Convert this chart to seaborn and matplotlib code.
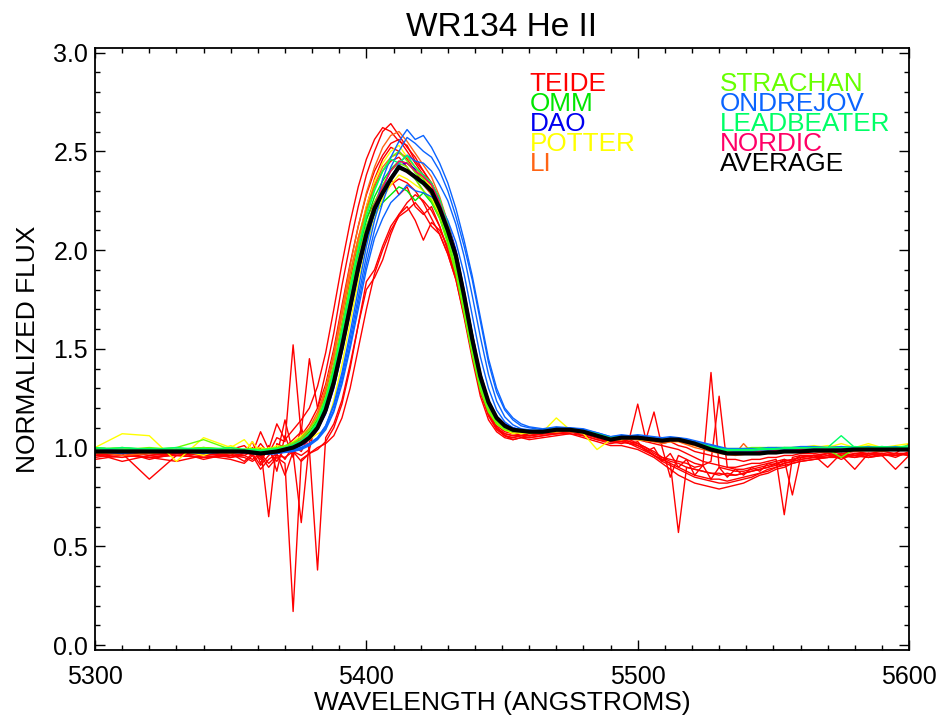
import numpy as np
import pandas as pd
import matplotlib
matplotlib.use("Agg")
import matplotlib.pyplot as plt
import seaborn as sns
from matplotlib.ticker import MultipleLocator, FormatStrFormatter

# ---------------- data ----------------
wavelength = [5300, 5310, 5320, 5330, 5340, 5350,
              5355, 5358, 5361, 5364, 5367, 5370, 5373, 5376, 5379, 5382, 5385, 5388,
              5391, 5394, 5397, 5400, 5403, 5406, 5409, 5412, 5415, 5418, 5421, 5424,
              5427, 5430, 5433, 5436, 5439, 5442, 5445, 5448, 5451, 5454, 5457, 5460,
              5465, 5470, 5475, 5480, 5485, 5490,
              5494, 5497, 5500, 5503, 5506, 5509, 5512, 5515, 5518, 5521, 5524, 5527,
              5530, 5533, 5536, 5539, 5542, 5545, 5548, 5551, 5554, 5557, 5560,
              5565, 5570, 5575, 5580, 5585, 5590, 5595, 5600]
SEG = [6, 36, 6, 23, 8]

teide_1 = [[0.97, 0.96, 0.95, 0.97, 0.96, 0.97],
           [0.98, 0.96, 1.02, 0.97, 1.05, 1.03, 1.52, 1.06, 1.12, 1.20, 1.38, 1.58, 1.82, 2.03, 2.22, 2.38, 2.50, 2.60,
            2.64, 2.58, 2.52, 2.47, 2.40, 2.33, 2.22, 2.08, 1.92, 1.72, 1.50, 1.31, 1.19, 1.12, 1.09, 1.07, 1.08, 1.06],
           [1.07, 1.08, 1.09, 1.07, 1.05, 1.03],
           [1.04, 1.03, 1.02, 1.00, 0.97, 0.95, 0.93, 0.92, 0.90, 0.89, 0.88, 0.87, 0.86, 0.87, 0.86, 0.87, 0.88, 0.89,
            0.90, 0.92, 0.93, 0.94, 0.95],
           [0.96, 0.95, 0.97, 0.96, 0.97, 0.96, 0.97, 0.97]]
teide_2 = [[0.96, 0.95, 0.97, 0.96, 0.95, 0.96],
           [0.95, 0.93, 0.96, 0.90, 0.95, 0.92, 0.17, 0.94, 0.97, 0.99, 1.03, 1.10, 1.22, 1.40, 1.62, 1.84, 1.90, 2.02,
            2.12, 2.18, 2.22, 2.15, 2.05, 2.14, 2.10, 2.02, 1.90, 1.72, 1.50, 1.30, 1.18, 1.10, 1.06, 1.05, 1.06, 1.05],
           [1.06, 1.07, 1.08, 1.06, 1.04, 1.03],
           [1.02, 1.03, 1.01, 0.99, 0.96, 0.93, 0.91, 0.89, 0.87, 0.85, 0.84, 0.83, 0.82, 0.82, 0.83, 0.84, 0.85, 0.87,
            0.88, 0.90, 0.91, 0.92, 0.93],
           [0.94, 0.95, 0.96, 0.95, 0.96, 0.97, 0.96, 0.97]]
teide_3 = [[0.97, 0.98, 0.96, 0.97, 0.97, 0.96],
           [0.97, 1.00, 0.95, 0.98, 0.93, 1.00, 0.97, 1.03, 1.07, 1.14, 1.28, 1.46, 1.67, 1.88, 2.06, 2.20, 2.32, 2.40,
            2.45, 2.47, 2.42, 2.36, 2.30, 2.25, 2.17, 2.05, 1.90, 1.70, 1.48, 1.30, 1.17, 1.11, 1.08, 1.07, 1.07, 1.07],
           [1.08, 1.08, 1.09, 1.08, 1.05, 1.04],
           [1.03, 1.04, 1.02, 1.00, 0.98, 0.95, 0.94, 0.93, 0.92, 0.90, 0.91, 1.38, 0.90, 0.89, 0.88, 0.88, 0.89, 0.90,
            0.91, 0.92, 0.93, 0.94, 0.95],
           [0.96, 0.97, 0.96, 0.97, 0.97, 0.96, 0.97, 0.96]]
teide_4 = [[0.95, 0.97, 0.84, 0.96, 0.95, 0.96],
           [0.96, 0.94, 0.97, 0.92, 0.96, 0.95, 0.98, 0.96, 0.99, 0.38, 1.05, 1.12, 1.24, 1.42, 1.62, 1.80, 1.86, 1.95,
            2.08, 2.18, 2.24, 2.28, 2.25, 2.20, 2.12, 2.00, 1.86, 1.68, 1.47, 1.28, 1.16, 1.09, 1.06, 1.05, 1.06, 1.06],
           [1.07, 1.08, 1.08, 1.07, 1.05, 1.03],
           [1.03, 1.02, 1.01, 0.99, 0.96, 0.94, 0.92, 0.57, 0.90, 0.89, 0.88, 0.87, 0.87, 0.86, 0.86, 0.87, 0.88, 0.89,
            0.90, 0.91, 0.92, 0.93, 0.94],
           [0.95, 0.96, 0.96, 0.95, 0.97, 0.96, 0.97, 0.97]]
teide_5 = [[0.98, 0.97, 0.98, 0.96, 0.98, 0.97],
           [0.99, 0.97, 1.00, 0.65, 1.02, 1.00, 1.04, 1.08, 1.45, 1.20, 1.32, 1.50, 1.72, 1.93, 2.12, 2.28, 2.40, 2.48,
            2.54, 2.56, 2.50, 2.44, 2.38, 2.34, 2.26, 2.13, 1.96, 1.76, 1.54, 1.34, 1.21, 1.13, 1.10, 1.08, 1.08, 1.07],
           [1.08, 1.09, 1.09, 1.08, 1.06, 1.04],
           [1.05, 1.04, 1.04, 1.03, 1.02, 1.01, 1.00, 0.99, 0.97, 0.95, 0.93, 0.92, 0.91, 0.90, 0.90, 0.91, 0.92, 0.92,
            0.93, 0.94, 0.66, 0.95, 0.96],
           [0.96, 0.90, 0.97, 0.96, 0.97, 0.97, 0.96, 0.97]]
teide_6 = [[0.96, 0.97, 0.95, 0.96, 0.97, 0.95],
           [0.96, 0.98, 0.94, 0.99, 0.96, 1.14, 0.97, 0.62, 1.03, 1.09, 1.20, 1.36, 1.56, 1.77, 1.97, 2.12, 2.22, 2.28,
            2.33, 2.36, 2.34, 2.30, 2.24, 2.16, 2.08, 1.98, 1.85, 1.67, 1.47, 1.29, 1.17, 1.10, 1.07, 1.06, 1.06, 1.06],
           [1.07, 1.07, 1.08, 1.07, 1.05, 1.04],
           [1.04, 1.05, 1.22, 1.04, 1.18, 1.00, 0.85, 0.96, 0.94, 0.92, 0.91, 0.93, 1.26, 0.90, 0.89, 0.89, 0.90, 0.91,
            0.92, 0.93, 0.94, 0.76, 0.95],
           [0.96, 0.97, 0.96, 0.89, 0.97, 0.96, 0.97, 0.96]]
teide_7 = [[0.97, 0.93, 0.96, 0.98, 0.94, 0.97],
           [0.93, 0.97, 0.91, 0.96, 0.99, 0.94, 1.01, 0.98, 1.06, 1.10, 1.22, 1.40, 1.62, 1.84, 2.02, 2.16, 2.24, 2.32,
            2.36, 2.28, 2.32, 2.22, 2.18, 2.22, 2.12, 2.00, 1.87, 1.69, 1.48, 1.29, 1.17, 1.10, 1.06, 1.04, 1.05, 1.05],
           [1.06, 1.07, 1.07, 1.06, 1.04, 1.02],
           [1.03, 1.02, 1.00, 0.98, 0.96, 0.94, 0.92, 0.90, 0.88, 0.86, 0.85, 0.84, 0.84, 0.83, 0.84, 0.85, 0.86, 0.87,
            0.89, 0.90, 0.92, 0.93, 0.94],
           [0.95, 0.95, 0.96, 0.96, 0.95, 0.96, 0.89, 0.96]]
teide_8 = [[0.96, 0.98, 0.94, 0.97, 0.99, 0.95],
           [0.97, 1.03, 0.92, 1.01, 0.88, 1.06, 0.95, 1.10, 0.99, 1.16, 1.24, 1.42, 1.62, 1.84, 2.05, 2.22, 2.36, 2.46,
            2.52, 2.50, 2.46, 2.40, 2.33, 2.28, 2.18, 2.05, 1.89, 1.69, 1.48, 1.29, 1.17, 1.10, 1.07, 1.06, 1.07, 1.06],
           [1.07, 1.08, 1.08, 1.07, 1.05, 1.03],
           [1.04, 1.02, 1.03, 0.98, 1.00, 0.93, 0.97, 0.90, 0.94, 0.86, 0.91, 0.84, 0.90, 0.85, 0.89, 0.86, 0.90, 0.88,
            0.92, 0.91, 0.94, 0.93, 0.96],
           [0.95, 0.97, 0.94, 0.97, 0.95, 0.97, 0.95, 0.98]]
teide_9 = [[0.94, 0.96, 0.95, 0.93, 0.96, 0.94],
           [0.92, 0.96, 0.89, 0.94, 0.97, 0.86, 0.98, 0.93, 0.97, 1.00, 1.02, 1.06, 1.15, 1.30, 1.50, 1.70, 1.88, 2.00,
            2.10, 2.17, 2.20, 2.24, 2.19, 2.12, 2.08, 1.98, 1.85, 1.66, 1.45, 1.26, 1.14, 1.08, 1.05, 1.04, 1.05, 1.04],
           [1.05, 1.06, 1.07, 1.05, 1.03, 1.01],
           [1.01, 1.00, 0.99, 0.97, 0.95, 0.92, 0.89, 0.86, 0.84, 0.82, 0.81, 0.80, 0.79, 0.80, 0.81, 0.82, 0.84, 0.86,
            0.87, 0.89, 0.90, 0.92, 0.93],
           [0.94, 0.95, 0.95, 0.96, 0.95, 0.96, 0.96, 0.97]]
teide_10 = [[0.98, 0.99, 0.97, 0.98, 0.96, 0.99],
            [1.01, 0.97, 1.08, 0.99, 1.12, 1.04, 1.09, 1.14, 1.20, 1.31, 1.48, 1.70, 1.93, 2.14, 2.32, 2.46, 2.56, 2.62,
             2.60, 2.55, 2.53, 2.45, 2.40, 2.34, 2.24, 2.10, 1.94, 1.73, 1.51, 1.32, 1.20, 1.13, 1.10, 1.08, 1.08, 1.07],
            [1.08, 1.09, 1.08, 1.07, 1.06, 1.04],
            [1.05, 1.04, 1.06, 1.03, 1.04, 1.02, 1.03, 1.01, 1.00, 0.98, 0.97, 0.96, 0.95, 0.94, 0.94, 0.93, 0.94, 0.94,
             0.95, 0.95, 0.96, 0.96, 0.97],
            [0.97, 0.98, 0.97, 0.98, 0.97, 0.98, 0.97, 1.02]]

omm_1 = [[0.99, 1.00, 0.99, 0.99, 1.00, 0.99],
         [0.99, 0.99, 0.985, 0.99, 0.995, 1.00, 1.02, 1.04, 1.08, 1.14, 1.25, 1.40, 1.59, 1.80, 1.99, 2.15, 2.27, 2.35,
          2.41, 2.45, 2.44, 2.40, 2.36, 2.31, 2.22, 2.10, 1.95, 1.75, 1.53, 1.34, 1.21, 1.14, 1.10, 1.09, 1.08, 1.08],
         [1.08, 1.09, 1.09, 1.08, 1.06, 1.04],
         [1.05, 1.05, 1.05, 1.045, 1.04, 1.035, 1.04, 1.04, 1.03, 1.02, 1.01, 1.00, 0.99, 0.985, 0.98, 0.98, 0.985,
          0.99, 0.99, 0.99, 0.995, 0.99, 0.995],
         [0.995, 0.99, 1.00, 0.995, 1.00, 0.995, 1.00, 0.995]]
omm_2 = [[0.98, 0.99, 0.98, 0.99, 0.98, 0.99],
         [0.98, 0.985, 0.98, 0.98, 0.99, 0.99, 1.01, 1.03, 1.06, 1.11, 1.21, 1.36, 1.55, 1.75, 1.94, 2.08, 2.18, 2.24,
          2.28, 2.32, 2.30, 2.25, 2.29, 2.24, 2.16, 2.05, 1.91, 1.71, 1.49, 1.31, 1.19, 1.12, 1.09, 1.08, 1.08, 1.075],
         [1.075, 1.085, 1.085, 1.075, 1.06, 1.04],
         [1.045, 1.05, 1.045, 1.04, 1.035, 1.03, 1.035, 1.035, 1.025, 1.015, 1.00, 0.99, 0.985, 0.98, 0.975, 0.975,
          0.98, 0.98, 0.985, 0.985, 0.99, 0.985, 0.99],
         [0.99, 0.985, 0.99, 0.99, 0.985, 0.99, 0.99, 0.99]]
dao_1 = [[0.98, 0.975, 0.98, 0.975, 0.98, 0.975],
         [0.975, 0.97, 0.97, 0.97, 0.975, 0.985, 0.995, 1.01, 1.04, 1.09, 1.17, 1.30, 1.48, 1.68, 1.88, 2.05, 2.19, 2.29,
          2.37, 2.43, 2.44, 2.41, 2.38, 2.33, 2.25, 2.14, 2.00, 1.80, 1.58, 1.38, 1.24, 1.16, 1.12, 1.10, 1.09, 1.085],
         [1.085, 1.095, 1.09, 1.085, 1.065, 1.045],
         [1.055, 1.05, 1.055, 1.05, 1.045, 1.035, 1.045, 1.045, 1.035, 1.025, 1.01, 0.995, 0.985, 0.975, 0.975, 0.975,
          0.975, 0.98, 0.98, 0.985, 0.985, 0.985, 0.99],
         [0.99, 0.99, 0.99, 0.995, 0.99, 0.995, 0.99, 0.995]]
potter_1 = [[1.00, 1.07, 1.06, 0.93, 1.05, 1.00],
            [1.04, 0.99, 1.00, 0.99, 1.01, 1.00, 1.03, 1.06, 1.10, 1.17, 1.30, 1.47, 1.67, 1.88, 2.06, 2.22, 2.35, 2.44,
             2.50, 2.53, 2.47, 2.42, 2.36, 2.32, 2.24, 2.12, 1.96, 1.76, 1.53, 1.33, 1.20, 1.12, 1.09, 1.07, 1.08, 1.07],
            [1.08, 1.15, 1.09, 1.07, 0.99, 1.04],
            [1.05, 1.05, 1.04, 1.045, 1.04, 1.03, 1.035, 1.04, 1.03, 1.02, 1.01, 1.00, 0.99, 0.99, 0.985, 0.985, 0.99,
             1.00, 0.99, 1.00, 0.995, 1.00, 1.00],
            [1.01, 1.00, 1.02, 1.00, 1.01, 1.00, 1.01, 1.02]]
potter_2 = [[0.99, 1.00, 0.98, 0.99, 0.96, 1.01],
            [0.98, 1.03, 0.97, 1.00, 0.98, 0.99, 1.00, 1.02, 1.04, 1.07, 1.09, 1.24, 1.42, 1.63, 1.84, 2.02, 2.16, 2.26,
             2.33, 2.38, 2.36, 2.33, 2.30, 2.26, 2.18, 2.07, 1.93, 1.74, 1.52, 1.33, 1.20, 1.13, 1.09, 1.08, 1.07, 1.075],
            [1.08, 1.08, 1.085, 1.075, 1.06, 1.04],
            [1.04, 1.045, 1.04, 1.035, 1.03, 1.025, 1.03, 1.03, 1.02, 1.01, 1.00, 0.99, 0.985, 0.98, 0.98, 0.985, 0.99,
             0.99, 1.00, 0.99, 1.00, 0.995, 1.00],
            [1.00, 1.01, 1.00, 1.00, 1.02, 1.00, 1.00, 1.01]]
li_1 = [[0.97, 0.98, 0.97, 0.99, 0.98, 0.97],
        [0.98, 0.97, 0.98, 0.99, 0.985, 0.995, 1.01, 1.04, 1.09, 1.16, 1.29, 1.48, 1.70, 1.92, 2.12, 2.29, 2.42, 2.52,
         2.58, 2.60, 2.55, 2.49, 2.43, 2.37, 2.27, 2.14, 1.98, 1.77, 1.55, 1.35, 1.22, 1.14, 1.10, 1.08, 1.08, 1.075],
        [1.075, 1.085, 1.08, 1.075, 1.055, 1.035],
        [1.045, 1.04, 1.05, 1.035, 1.03, 1.02, 1.03, 1.03, 1.015, 1.00, 0.99, 0.98, 0.97, 0.965, 0.96, 0.965, 0.97,
         0.97, 0.975, 0.975, 0.98, 0.975, 0.98],
        [0.98, 0.975, 0.99, 0.98, 0.985, 0.98, 0.99, 0.985]]
li_2 = [[0.98, 0.96, 0.97, 0.98, 0.99, 0.98],
        [0.99, 0.98, 0.985, 0.98, 0.99, 1.00, 1.02, 1.05, 1.10, 1.18, 1.30, 1.47, 1.67, 1.88, 2.06, 2.21, 2.33, 2.42,
         2.47, 2.49, 2.47, 2.42, 2.37, 2.33, 2.23, 2.10, 1.94, 1.74, 1.52, 1.33, 1.20, 1.13, 1.10, 1.08, 1.08, 1.08],
        [1.08, 1.09, 1.085, 1.08, 1.06, 1.04],
        [1.05, 1.045, 1.04, 1.04, 1.03, 1.025, 1.035, 1.035, 1.02, 1.01, 1.00, 0.99, 0.98, 0.975, 0.97, 1.02, 0.975,
         0.98, 0.98, 0.985, 0.98, 0.985, 0.99],
        [0.99, 0.98, 1.00, 0.985, 0.99, 0.98, 0.99, 1.00]]
strachan_1 = [[0.99, 0.99, 0.99, 1.00, 1.04, 0.99],
              [0.99, 0.99, 0.985, 0.99, 0.995, 1.00, 1.015, 1.035, 1.07, 1.13, 1.23, 1.38, 1.57, 1.77, 1.96, 2.12,
               2.24, 2.33, 2.40, 2.44, 2.42, 2.36, 2.30, 2.25, 2.16, 2.03, 1.88, 1.68, 1.47, 1.29, 1.18, 1.12, 1.09,
               1.08, 1.08, 1.08],
              [1.08, 1.09, 1.09, 1.08, 1.065, 1.045],
              [1.05, 1.05, 1.05, 1.045, 1.04, 1.035, 1.04, 1.04, 1.03, 1.02, 1.01, 1.00, 0.995, 0.99, 0.99, 0.99, 0.99,
               0.995, 0.99, 0.995, 0.99, 0.995, 0.99],
              [0.99, 0.99, 0.95, 0.995, 0.99, 0.995, 0.99, 0.995]]
strachan_2 = [[1.00, 0.99, 1.00, 0.99, 1.00, 0.99],
              [0.99, 0.995, 0.99, 0.995, 1.00, 1.01, 1.025, 1.05, 1.09, 1.15, 1.26, 1.42, 1.62, 1.83, 2.02, 2.19,
               2.31, 2.40, 2.47, 2.50, 2.45, 2.39, 2.36, 2.28, 2.19, 2.06, 1.90, 1.70, 1.49, 1.31, 1.19, 1.13, 1.10,
               1.09, 1.09, 1.085],
              [1.09, 1.10, 1.095, 1.09, 1.07, 1.05],
              [1.055, 1.05, 1.055, 1.05, 1.045, 1.04, 1.045, 1.045, 1.035, 1.025, 1.015, 1.005, 1.00, 0.995, 0.995,
               0.995, 1.00, 1.00, 1.00, 1.00, 1.00, 1.00, 1.00],
              [1.00, 0.995, 1.00, 1.00, 1.00, 1.005, 1.00, 1.00]]
ondrejov_1 = [[0.99, 0.99, 0.98, 0.99, 0.98, 0.98],
              [0.98, 0.98, 0.975, 0.97, 0.975, 0.98, 0.99, 1.00, 1.02, 1.05, 1.11, 1.21, 1.36, 1.55, 1.76, 1.97, 2.15,
               2.30, 2.42, 2.50, 2.57, 2.54, 2.50, 2.47, 2.40, 2.30, 2.17, 2.02, 1.85, 1.64, 1.43, 1.28, 1.19, 1.14,
               1.11, 1.10],
              [1.09, 1.10, 1.10, 1.09, 1.07, 1.05],
              [1.06, 1.06, 1.06, 1.055, 1.05, 1.045, 1.05, 1.05, 1.04, 1.03, 1.02, 1.01, 1.00, 0.99, 0.99, 0.99, 0.99,
               0.99, 0.99, 0.99, 0.995, 1.00, 1.00],
              [1.00, 1.00, 1.00, 1.00, 1.00, 1.00, 1.00, 1.00]]
ondrejov_2 = [[0.98, 0.97, 0.98, 0.98, 0.97, 0.98],
              [0.975, 0.97, 0.97, 0.965, 0.97, 0.975, 0.98, 0.99, 1.01, 1.04, 1.09, 1.18, 1.32, 1.50, 1.70, 1.90, 2.06,
               2.16, 2.24, 2.28, 2.33, 2.30, 2.29, 2.27, 2.23, 2.15, 2.04, 1.88, 1.67, 1.46, 1.30, 1.19, 1.13, 1.10,
               1.09, 1.085],
              [1.08, 1.09, 1.09, 1.085, 1.07, 1.05],
              [1.05, 1.055, 1.05, 1.045, 1.04, 1.035, 1.04, 1.04, 1.03, 1.02, 1.01, 1.00, 0.99, 0.985, 0.98, 0.98, 0.98,
               0.98, 0.985, 0.985, 0.99, 0.99, 0.99],
              [0.99, 0.99, 0.995, 0.99, 0.995, 0.99, 0.995, 0.99]]
ondrejov_3 = [[0.99, 0.98, 0.99, 0.98, 0.985, 0.98],
              [0.98, 0.975, 0.97, 0.97, 0.97, 0.98, 0.985, 0.995, 1.015, 1.045, 1.10, 1.19, 1.34, 1.52, 1.73, 1.93,
               2.10, 2.24, 2.36, 2.44, 2.48, 2.45, 2.44, 2.40, 2.33, 2.25, 2.13, 1.97, 1.77, 1.56, 1.37, 1.235, 1.155,
               1.115, 1.095, 1.09],
              [1.085, 1.095, 1.095, 1.09, 1.075, 1.055],
              [1.06, 1.06, 1.055, 1.05, 1.045, 1.04, 1.045, 1.045, 1.035, 1.025, 1.015, 1.005, 0.995, 0.99, 0.985,
               0.985, 0.985, 0.99, 0.99, 0.99, 0.995, 0.995, 0.995],
              [0.995, 1.00, 0.995, 1.00, 0.995, 1.00, 0.995, 1.00]]
ondrejov_4 = [[0.985, 0.99, 0.985, 0.99, 0.985, 0.99],
              [0.985, 0.98, 0.975, 0.975, 0.975, 0.985, 0.99, 1.00, 1.02, 1.05, 1.11, 1.22, 1.38, 1.58, 1.80, 2.02,
               2.20, 2.36, 2.47, 2.55, 2.61, 2.56, 2.58, 2.52, 2.44, 2.34, 2.21, 2.05, 1.87, 1.66, 1.45, 1.30, 1.20,
               1.15, 1.12, 1.105],
              [1.095, 1.105, 1.10, 1.095, 1.075, 1.055],
              [1.065, 1.06, 1.065, 1.06, 1.055, 1.05, 1.055, 1.05, 1.045, 1.035, 1.025, 1.015, 1.005, 0.995, 0.995,
               0.995, 0.995, 0.995, 1.00, 1.00, 1.00, 1.00, 1.005],
              [1.005, 1.00, 1.005, 1.00, 1.005, 1.00, 1.005, 1.00]]
leadbeater_1 = [[1.00, 0.99, 0.995, 0.99, 0.995, 0.99],
                [0.99, 0.985, 0.98, 0.985, 0.99, 1.00, 1.01, 1.03, 1.065, 1.12, 1.22, 1.37, 1.56, 1.76, 1.95, 2.11,
                 2.23, 2.31, 2.37, 2.41, 2.40, 2.36, 2.33, 2.29, 2.20, 2.08, 1.94, 1.74, 1.52, 1.33, 1.21, 1.14, 1.10,
                 1.09, 1.085, 1.08],
                [1.08, 1.09, 1.09, 1.08, 1.065, 1.045],
                [1.05, 1.05, 1.05, 1.045, 1.04, 1.035, 1.04, 1.04, 1.03, 1.02, 1.01, 1.00, 0.99, 0.985, 0.985, 0.985,
                 0.985, 0.99, 0.99, 0.99, 0.995, 0.995, 0.995],
                [1.00, 1.00, 1.06, 1.00, 1.00, 1.00, 1.00, 1.00]]
leadbeater_2 = [[0.99, 1.00, 0.99, 1.00, 0.99, 1.00],
                [0.99, 0.99, 0.985, 0.99, 0.995, 1.00, 1.015, 1.035, 1.07, 1.13, 1.24, 1.39, 1.59, 1.80, 2.00, 2.17,
                 2.30, 2.40, 2.46, 2.44, 2.48, 2.42, 2.38, 2.34, 2.26, 2.13, 1.98, 1.78, 1.56, 1.36, 1.23, 1.15, 1.11,
                 1.095, 1.09, 1.085],
                [1.085, 1.095, 1.095, 1.085, 1.07, 1.05],
                [1.055, 1.055, 1.05, 1.05, 1.045, 1.04, 1.045, 1.045, 1.035, 1.025, 1.015, 1.005, 0.995, 0.99, 0.99,
                 0.99, 0.99, 0.995, 0.995, 0.995, 1.00, 1.00, 1.00],
                [1.00, 1.00, 1.00, 1.005, 1.00, 1.005, 1.00, 1.01]]
nordic_1 = [[0.985, 0.985, 0.985, 0.985, 0.985, 0.985],
            [0.985, 0.98, 0.975, 0.98, 0.985, 0.995, 1.005, 1.025, 1.055, 1.105, 1.20, 1.35, 1.54, 1.74, 1.94, 2.10,
             2.23, 2.32, 2.40, 2.45, 2.44, 2.40, 2.37, 2.33, 2.24, 2.12, 1.98, 1.78, 1.56, 1.36, 1.23, 1.15, 1.11,
             1.09, 1.085, 1.08],
            [1.08, 1.09, 1.09, 1.085, 1.065, 1.045],
            [1.05, 1.05, 1.05, 1.045, 1.04, 1.035, 1.04, 1.04, 1.03, 1.02, 1.005, 0.99, 0.98, 0.975, 0.975, 0.975,
             0.975, 0.98, 0.98, 0.985, 0.985, 0.985, 0.99],
            [0.99, 0.99, 0.99, 0.99, 0.99, 0.99, 0.99, 0.99]]
average = [[0.98, 0.98, 0.98, 0.98, 0.98, 0.98],
           [0.98, 0.975, 0.97, 0.975, 0.98, 0.99, 1.00, 1.02, 1.05, 1.10, 1.19, 1.33, 1.51, 1.71, 1.91, 2.08, 2.21,
            2.29, 2.36, 2.42, 2.40, 2.37, 2.34, 2.30, 2.21, 2.10, 1.97, 1.77, 1.55, 1.36, 1.23, 1.15, 1.11, 1.09,
            1.085, 1.08],
           [1.08, 1.09, 1.09, 1.08, 1.06, 1.04],
           [1.05, 1.05, 1.05, 1.045, 1.04, 1.035, 1.04, 1.04, 1.03, 1.02, 1.005, 0.99, 0.98, 0.97, 0.97, 0.97, 0.97,
            0.97, 0.975, 0.975, 0.98, 0.98, 0.98],
           [0.985, 0.985, 0.985, 0.99, 0.99, 0.99, 0.99, 0.99]]

observatories = ["TEIDE", "OMM", "DAO", "POTTER", "LI",
                 "STRACHAN", "ONDREJOV", "LEADBEATER", "NORDIC"]
obs_colors = ["#FF0000", "#00E600", "#0000F0", "#FFFF00", "#FF6414",
              "#66FF00", "#0A64FF", "#00FF66", "#FF0066"]
spectra = {
    "TEIDE": [teide_1, teide_2, teide_3, teide_4, teide_5, teide_6, teide_7, teide_8, teide_9, teide_10],
    "OMM": [omm_1, omm_2],
    "DAO": [dao_1],
    "POTTER": [potter_1, potter_2],
    "LI": [li_1, li_2],
    "STRACHAN": [strachan_1, strachan_2],
    "ONDREJOV": [ondrejov_1, ondrejov_2, ondrejov_3, ondrejov_4],
    "LEADBEATER": [leadbeater_1, leadbeater_2],
    "NORDIC": [nordic_1],
}


def flatten(name, segs):
    for i, (s, n) in enumerate(zip(segs, SEG)):
        if len(s) != n:
            raise ValueError(f"{name} segment {i}: {len(s)} != {n}")
    out = [v for s in segs for v in s]
    assert len(out) == len(wavelength)
    return out


rows = []
order = []
palette = {}
for obs, col in zip(observatories, obs_colors):
    for k, segs in enumerate(spectra[obs]):
        sid = f"{obs}_{k}"
        order.append(sid)
        palette[sid] = col
        for w, f in zip(wavelength, flatten(sid, segs)):
            rows.append((w, f, sid, obs))
df = pd.DataFrame(rows, columns=["wavelength", "flux", "spectrum", "observatory"])
avg_df = pd.DataFrame({"wavelength": wavelength, "flux": flatten("average", average)})

# ---------------- plot ----------------
sns.set_style("ticks")
plt.rcParams["font.family"] = ["Liberation Sans", "DejaVu Sans"]
for key in ["text.color", "axes.labelcolor", "xtick.color", "ytick.color", "axes.edgecolor"]:
    plt.rcParams[key] = "black"

fig = plt.figure(figsize=(9.4, 7.15), dpi=100)
ax = fig.add_axes([0.1011, 0.0909, 0.866, 0.842])

sns.lineplot(data=df, x="wavelength", y="flux", hue="spectrum", hue_order=order,
             palette=palette, estimator=None, sort=False, legend=False,
             linewidth=1.0, ax=ax)
sns.lineplot(data=avg_df, x="wavelength", y="flux", color="black", estimator=None,
             sort=False, linewidth=3.0, ax=ax)

ax.set_xlim(5300, 5600)
ax.set_ylim(-0.025, 3.023)
ax.xaxis.set_major_locator(MultipleLocator(100))
ax.xaxis.set_minor_locator(MultipleLocator(10))
ax.yaxis.set_major_locator(MultipleLocator(0.5))
ax.yaxis.set_minor_locator(MultipleLocator(0.1))
ax.yaxis.set_major_formatter(FormatStrFormatter("%.1f"))
ax.tick_params(which="both", direction="in", top=True, right=True, width=1.0, colors="black")
ax.tick_params(which="major", length=7.5, labelsize=18)
ax.tick_params(which="minor", length=3.8)
ax.tick_params(axis="x", which="major", pad=11)
ax.tick_params(axis="y", which="major", pad=5)
for sp in ax.spines.values():
    sp.set_linewidth(1.3)
    sp.set_color("black")

ax.set_xlabel("WAVELENGTH (ANGSTROMS)", fontsize=19, va="top")
ax.xaxis.set_label_coords(0.5, -0.068)
ax.set_ylabel("NORMALIZED FLUX", fontsize=19)
ax.yaxis.set_label_coords(-0.068, 0.5)
fig.text(0.534, 1 - 27 / 715, "WR134 He II", ha="center", va="center", fontsize=24)

legend_cols = [observatories[:5], observatories[5:] + ["AVERAGE"]]
legend_colors = [obs_colors[:5], obs_colors[5:] + ["#000000"]]
col_x = [0.534, 0.768]
row_y = [0.940, 0.907, 0.874, 0.841, 0.807]
for cx, names, cols in zip(col_x, legend_cols, legend_colors):
    for ry, name, c in zip(row_y, names, cols):
        ax.text(cx, ry, name, color=c, fontsize=18.8, ha="left", va="center",
                transform=ax.transAxes)

fig.savefig("out.png", dpi=100)
